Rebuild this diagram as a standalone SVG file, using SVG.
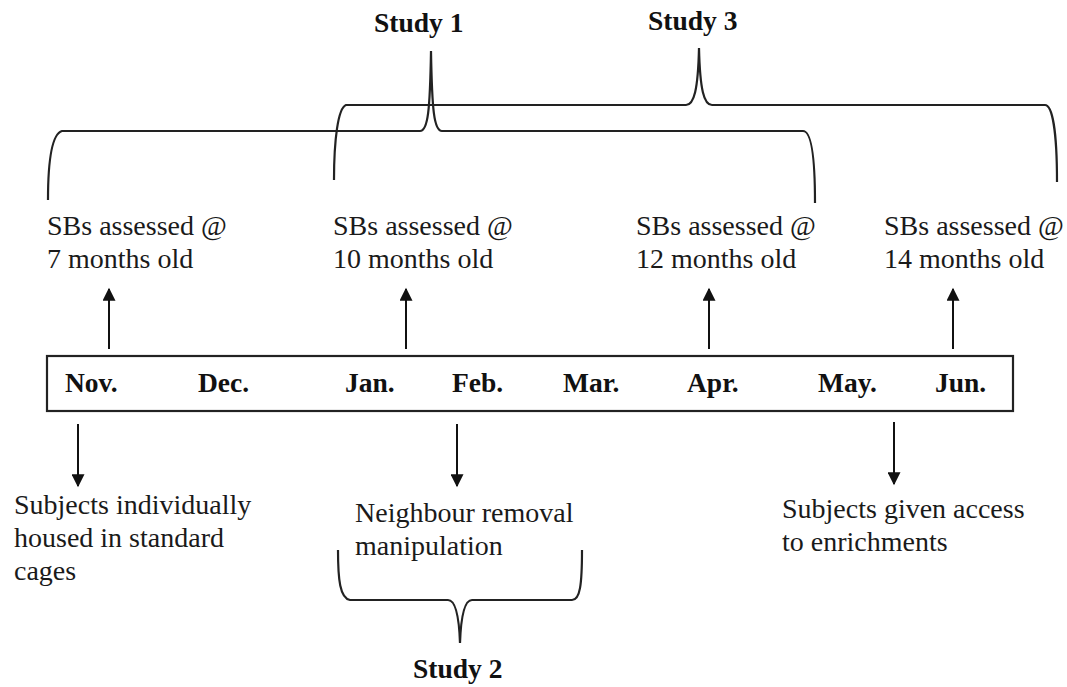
<svg xmlns="http://www.w3.org/2000/svg" width="1067" height="687" viewBox="0 0 1067 687">
<style>
.t{font-family:"Liberation Serif","Times New Roman",serif;font-size:28px;fill:#1a1a1a}
.b{font-family:"Liberation Serif","Times New Roman",serif;font-size:27.5px;font-weight:bold;fill:#111}
.ln{fill:none;stroke:#111;stroke-width:2}
.br{fill:none;stroke:#222;stroke-width:2.2}
</style>
<defs>
<marker id="ah" viewBox="0 0 10 10" refX="9" refY="5" markerWidth="7" markerHeight="6.5" orient="auto" markerUnits="strokeWidth">
<path d="M0,0 L10,5 L0,10 z" fill="#111"/>
</marker>
</defs>
<rect width="1067" height="687" fill="#fff"/>
<g id="timeline">
<rect x="47" y="356" width="966" height="55" fill="#fff" stroke="#222" stroke-width="2.2"/>
<text class="b" x="65" y="392">Nov.</text>
<text class="b" x="198" y="392">Dec.</text>
<text class="b" x="345" y="392">Jan.</text>
<text class="b" x="452" y="392">Feb.</text>
<text class="b" x="563" y="392">Mar.</text>
<text class="b" x="687" y="392">Apr.</text>
<text class="b" x="818" y="392">May.</text>
<text class="b" x="935" y="392">Jun.</text>
</g>
<g id="sb7"><text class="t" x="47" y="235">SBs assessed @</text><text class="t" x="47" y="268">7 months old</text></g>
<g id="sb10"><text class="t" x="333" y="235">SBs assessed @</text><text class="t" x="333" y="268">10 months old</text></g>
<g id="sb12"><text class="t" x="636" y="235">SBs assessed @</text><text class="t" x="636" y="268">12 months old</text></g>
<g id="sb14"><text class="t" x="884" y="235">SBs assessed @</text><text class="t" x="884" y="268">14 months old</text></g>
<g id="ev-nov"><text class="t" x="14" y="514">Subjects individually</text><text class="t" x="14" y="547">housed in standard</text><text class="t" x="14" y="580">cages</text></g>
<g id="ev-feb"><text class="t" x="355" y="522">Neighbour removal</text><text class="t" x="355" y="555">manipulation</text></g>
<g id="ev-may"><text class="t" x="782" y="518">Subjects given access</text><text class="t" x="782" y="551">to enrichments</text></g>
<g id="study1"><text class="b" x="374" y="32">Study 1</text></g>
<g id="study3"><text class="b" x="648" y="30">Study 3</text></g>
<g id="study2"><text class="b" x="413" y="678">Study 2</text></g>
<g id="connectors">
<path class="br" d="M48,200 C48,160 52,134 62,131 L420,131 C428,131 430,110 431,51 C432,110 434,131 442,131 L803,131 C810,131 815,150 815,203"/>
<path class="br" d="M334,180 C334,140 338,108 346,105 L686,105 C694,105 698,90 699,48 C700,90 704,105 712,105 L1045,105 C1052,105 1057,130 1057,182"/>
<path class="br" d="M338,550 C338,580 340,598 350,600 L448,600 C455,600 459,615 460,643 C461,615 465,600 472,600 L572,600 C580,600 582,585 582,550"/>
<line class="ln" x1="109" y1="349" x2="109" y2="289" marker-end="url(#ah)"/>
<line class="ln" x1="406" y1="349" x2="406" y2="289" marker-end="url(#ah)"/>
<line class="ln" x1="709" y1="349" x2="709" y2="289" marker-end="url(#ah)"/>
<line class="ln" x1="953" y1="349" x2="953" y2="289" marker-end="url(#ah)"/>
<line class="ln" x1="78" y1="424" x2="78" y2="486" marker-end="url(#ah)"/>
<line class="ln" x1="457" y1="424" x2="457" y2="486" marker-end="url(#ah)"/>
<line class="ln" x1="894" y1="422" x2="894" y2="484" marker-end="url(#ah)"/>
</g>
</svg>
